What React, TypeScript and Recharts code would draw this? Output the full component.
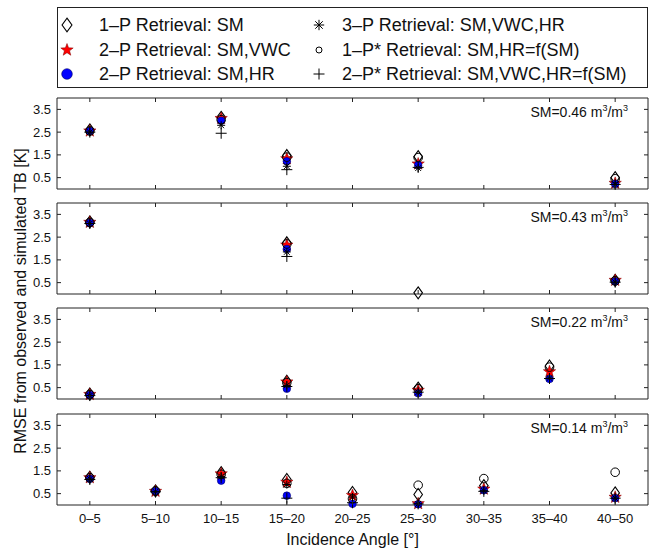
import React from 'react';
import { ScatterChart, Scatter, XAxis, YAxis, ReferenceLine } from 'recharts';

// ── data ────────────────────────────────────────────────────
const categories = ['0–5', '5–10', '10–15', '15–20', '20–25', '25–30', '30–35', '35–40', '40–50'];
const yTicks = [0.5, 1.5, 2.5, 3.5];
const smLevels = ['0.46', '0.43', '0.22', '0.14'];

// SM=0.46
const s46_1P = [2.6, null, 3.15, 1.47, null, 1.42, null, null, 0.5];
const s46_2P_VWC = [2.55, null, 3.1, 1.33, null, 1.1, null, null, 0.25];
const s46_2P_HR = [2.55, null, 3.0, 1.22, null, 1.05, null, null, 0.22];
const s46_3P = [2.5, null, 2.8, 1.0, null, 0.92, null, null, 0.2];
const s46_1Ps = [2.55, null, 3.05, 1.4, null, 1.38, null, null, 0.45];
const s46_2Ps = [2.5, null, 2.45, 0.85, null, 0.95, null, null, 0.2];

// SM=0.43
const s43_1P = [3.17, null, null, 2.25, null, 0.05, null, null, 0.6];
const s43_2P_VWC = [3.15, null, null, 2.15, null, null, null, null, 0.6];
const s43_2P_HR = [3.12, null, null, 1.98, null, null, null, null, 0.55];
const s43_3P = [3.1, null, null, 1.85, null, null, null, null, 0.52];
const s43_1Ps = [3.15, null, null, 2.2, null, null, null, null, 0.58];
const s43_2Ps = [3.1, null, null, 1.65, null, null, null, null, 0.52];

// SM=0.22
const s22_1P = [0.22, null, null, 0.78, null, 0.48, null, 1.45, null];
const s22_2P_VWC = [0.2, null, null, 0.75, null, 0.38, null, 1.2, null];
const s22_2P_HR = [0.17, null, null, 0.45, null, 0.25, null, 0.88, null];
const s22_3P = [0.15, null, null, 0.6, null, 0.3, null, 0.92, null];
const s22_1Ps = [0.2, null, null, 0.72, null, 0.45, null, 1.4, null];
const s22_2Ps = [0.15, null, null, 0.55, null, 0.3, null, 0.9, null];

// SM=0.14
const s14_1P = [1.22, 0.62, 1.42, 1.12, 0.55, 0.46, 0.85, null, 0.53];
const s14_2P_VWC = [1.2, 0.6, 1.37, 1.0, 0.42, 0.06, 0.7, null, 0.34];
const s14_2P_HR = [1.15, 0.6, 1.07, 0.41, 0.05, 0.03, 0.65, null, 0.3];
const s14_3P = [1.15, 0.58, 1.25, 0.9, 0.35, 0.05, 0.63, null, 0.3];
const s14_1Ps = [1.2, 0.62, 1.35, 0.95, 0.27, 0.87, 1.16, null, 1.44];
const s14_2Ps = [1.12, 0.58, 1.2, 0.3, 0.1, 0.05, 0.6, null, 0.3];

const panels = [
  [s46_1P, s46_2P_VWC, s46_2P_HR, s46_3P, s46_1Ps, s46_2Ps],
  [s43_1P, s43_2P_VWC, s43_2P_HR, s43_3P, s43_1Ps, s43_2Ps],
  [s22_1P, s22_2P_VWC, s22_2P_HR, s22_3P, s22_1Ps, s22_2Ps],
  [s14_1P, s14_2P_VWC, s14_2P_HR, s14_3P, s14_1Ps, s14_2Ps],
];

const seriesNames = [
  '1–P Retrieval: SM',
  '2–P Retrieval: SM,VWC',
  '2–P Retrieval: SM,HR',
  '3–P Retrieval: SM,VWC,HR',
  '1–P* Retrieval: SM,HR=f(SM)',
  '2–P* Retrieval: SM,VWC,HR=f(SM)',
];

// ── layout ──────────────────────────────────────────────────
const FONT = '"Liberation Sans", Arial, Helvetica, sans-serif';
const FRAME = '#222';
const PANEL_TOPS = [98, 203, 308, 414];
const PLOT_H = 91;
const PLOT_LEFT = 57;
const PLOT_W = 591;
const PAD = 8;
const TICK = 4;
const xTicks = categories.map((_, i) => i + 1);

// ── marker shapes ───────────────────────────────────────────
const Diamond = ({ cx, cy, s = 1 }: any) => (
  <path
    d={`M${cx},${cy - 6 * s} L${cx + 4.3 * s},${cy} L${cx},${cy + 6 * s} L${cx - 4.3 * s},${cy} Z`}
    fill="none" stroke="#000" strokeWidth={1.1}
  />
);

const starPath = (cx: number, cy: number, R: number, r: number) => {
  const pts: string[] = [];
  for (let k = 0; k < 10; k++) {
    const a = (-90 + k * 36) * Math.PI / 180;
    const rad = k % 2 ? r : R;
    pts.push(`${(cx + rad * Math.cos(a)).toFixed(2)},${(cy + rad * Math.sin(a)).toFixed(2)}`);
  }
  return `M${pts.join(' L')} Z`;
};

const Star = ({ cx, cy, s = 1 }: any) => (
  <path d={starPath(cx, cy, 6.5 * s, 2.7 * s)} fill="#ff0000" stroke="#7a0000" strokeWidth={0.5} />
);

const BlueDot = ({ cx, cy, s = 1 }: any) => (
  <circle cx={cx} cy={cy} r={3.8 * s} fill="#0000ff" stroke="#000066" strokeWidth={0.6} />
);

const Asterisk = ({ cx, cy, s = 1 }: any) => {
  const h = 4 * s;
  const d = h * 0.72;
  return (
    <g stroke="#000" strokeWidth={1}>
      <line x1={cx - h} x2={cx + h} y1={cy} y2={cy} />
      <line x1={cx} x2={cx} y1={cy - h} y2={cy + h} />
      <line x1={cx - d} x2={cx + d} y1={cy - d} y2={cy + d} />
      <line x1={cx - d} x2={cx + d} y1={cy + d} y2={cy - d} />
    </g>
  );
};

const OpenCircle = ({ cx, cy, s = 1 }: any) => (
  <circle cx={cx} cy={cy} r={4.3 * s} fill="none" stroke="#000" strokeWidth={1} />
);

const Plus = ({ cx, cy, s = 1 }: any) => {
  const h = 5.5 * s;
  return (
    <g stroke="#000" strokeWidth={1}>
      <line x1={cx - h} x2={cx + h} y1={cy} y2={cy} />
      <line x1={cx} x2={cx} y1={cy - h} y2={cy + h} />
    </g>
  );
};

const shapes = [Diamond, Star, BlueDot, Asterisk, OpenCircle, Plus];

// ── ticks (inward, mirrored on both sides) ──────────────────
const XTick = ({ x, y, payload, showLabel }: any) => (
  <g>
    <line x1={x} x2={x} y1={y} y2={y - TICK} stroke={FRAME} />
    <line x1={x} x2={x} y1={y - PLOT_H} y2={y - PLOT_H + TICK} stroke={FRAME} />
    {showLabel && (
      <text x={x} y={y + 18} textAnchor="middle" fontSize={13} fill="#111" fontFamily={FONT}>
        {categories[payload.value - 1]}
      </text>
    )}
  </g>
);

const YTick = ({ x, y, payload }: any) => (
  <g>
    <line x1={x} x2={x + TICK} y1={y} y2={y} stroke={FRAME} />
    <line x1={x + PLOT_W} x2={x + PLOT_W - TICK} y1={y} y2={y} stroke={FRAME} />
    <text x={x - 6} y={y} dy={4.5} textAnchor="end" fontSize={13} fill="#111" fontFamily={FONT}>
      {Number(payload.value).toFixed(1)}
    </text>
  </g>
);

const toPoints = (arr: (number | null)[]) =>
  arr.map((v, i) => ({ x: i + 1, y: v })).filter(p => p.y !== null);

const Panel = ({ idx }: { idx: number }) => {
  const last = idx === panels.length - 1;
  const bottom = last ? 30 : PAD;
  return (
    <div style={{ position: 'absolute', left: 0, top: PANEL_TOPS[idx] - PAD }}>
      <ScatterChart
        width={650}
        height={PLOT_H + PAD + bottom + 1}
        margin={{ top: PAD, right: 650 - PLOT_LEFT - PLOT_W, bottom, left: PLOT_LEFT - 1 }}
      >
        <XAxis
          type="number" dataKey="x" domain={[0.5, 9.5]} ticks={xTicks} interval={0}
          height={1} tickSize={0} tickMargin={0} tickLine={false}
          axisLine={{ stroke: FRAME }}
          tick={(p: any) => <XTick {...p} showLabel={last} />}
        />
        <YAxis
          type="number" dataKey="y" domain={[0, 4]} ticks={yTicks} interval={0}
          width={1} tickSize={0} tickMargin={0} tickLine={false}
          axisLine={{ stroke: FRAME }}
          tick={(p: any) => <YTick {...p} />}
        />
        <ReferenceLine y={4} stroke={FRAME} />
        <ReferenceLine x={9.5} stroke={FRAME} />
        {panels[idx].map((arr, si) => {
          const Shape = shapes[si];
          return (
            <Scatter
              key={si}
              name={seriesNames[si]}
              data={toPoints(arr)}
              isAnimationActive={false}
              shape={(p: any) => <Shape cx={p.cx} cy={p.cy} />}
            />
          );
        })}
      </ScatterChart>
      <div
        style={{
          position: 'absolute', right: 650 - 628, top: PAD + 6,
          fontSize: 14, fontFamily: FONT, color: '#111', whiteSpace: 'nowrap', lineHeight: '16px',
        }}
      >
        SM={smLevels[idx]} m<sup style={{ fontSize: 9, verticalAlign: 6, lineHeight: 0 }}>3</sup>/m
        <sup style={{ fontSize: 9, verticalAlign: 6, lineHeight: 0 }}>3</sup>
      </div>
    </div>
  );
};

// ── legend ──────────────────────────────────────────────────
const legendCols = [
  { symX: 67, textX: 99 },
  { symX: 319, textX: 342 },
];
const legendRows = [25, 50, 74];
const legendScale = [1.15, 1.0, 1.4, 1.3, 0.7, 1.0];

const LegendItem = ({ si }: { si: number }) => {
  const col = legendCols[Math.floor(si / 3)];
  const rowY = legendRows[si % 3];
  const Shape = shapes[si];
  return (
    <>
      <svg
        width={24} height={24}
        style={{ position: 'absolute', left: col.symX - 12, top: rowY - 12, overflow: 'visible' }}
      >
        <Shape cx={12} cy={12} s={legendScale[si]} />
      </svg>
      <div
        style={{
          position: 'absolute', left: col.textX, top: rowY - 11, fontSize: 18,
          lineHeight: '22px', fontFamily: FONT, color: '#111', whiteSpace: 'nowrap',
        }}
      >
        {seriesNames[si]}
      </div>
    </>
  );
};

export default function App() {
  return (
    <div
      style={{
        position: 'absolute', left: 0, top: 0, width: 650, height: 551,
        background: '#fff', fontFamily: FONT, overflow: 'hidden',
      }}
    >
      <div
        style={{
          position: 'absolute', left: PLOT_LEFT, top: 7, width: PLOT_W, height: 81,
          border: `1px solid ${FRAME}`, boxSizing: 'border-box',
        }}
      />
      {seriesNames.map((_, si) => <LegendItem key={si} si={si} />)}

      {panels.map((_, idx) => <Panel key={idx} idx={idx} />)}

      <div
        style={{
          position: 'absolute', left: 21, top: 301, transform: 'translate(-50%, -50%) rotate(-90deg)',
          fontSize: 16, whiteSpace: 'nowrap', color: '#111',
        }}
      >
        RMSE from observed and simulated TB [K]
      </div>
      <div
        style={{
          position: 'absolute', left: PLOT_LEFT + PLOT_W / 2, top: 540, transform: 'translate(-50%, -50%)',
          fontSize: 16, whiteSpace: 'nowrap', color: '#111',
        }}
      >
        Incidence Angle [°]
      </div>
    </div>
  );
}
